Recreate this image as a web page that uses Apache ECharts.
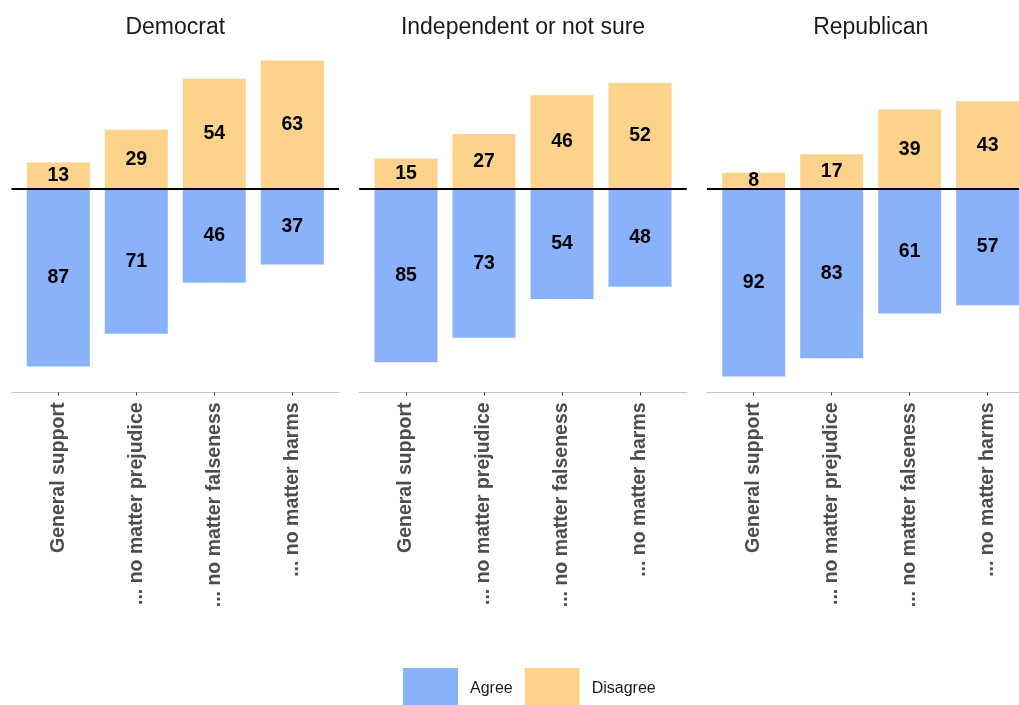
<!DOCTYPE html>
<html>
<head>
<meta charset="utf-8">
<script src="https://cdn.jsdelivr.net/npm/echarts@6/dist/echarts.min.js"></script>
<style>
  html, body { margin: 0; padding: 0; background: #ffffff; }
  #chart { width: 1019px; height: 705px; }
</style>
</head>
<body>
<div id="chart"></div>
<script>
// Survey statements (x axis) and respondent groups (panels)
const categories = ['General support', '... no matter prejudice', '... no matter falseness', '... no matter harms'];
const parties = ['Democrat', 'Independent or not sure', 'Republican'];

// Percent agreeing / disagreeing, per group
const agreeDemocrat = [87, 71, 46, 37];
const disagreeDemocrat = [13, 29, 54, 63];
const agreeIndependent = [85, 73, 54, 48];
const disagreeIndependent = [15, 27, 46, 52];
const agreeRepublican = [92, 83, 61, 57];
const disagreeRepublican = [8, 17, 39, 43];

const agreeByParty = [agreeDemocrat, agreeIndependent, agreeRepublican];
const disagreeByParty = [disagreeDemocrat, disagreeIndependent, disagreeRepublican];

const AGREE_COLOR = '#8AB2FA';
const DISAGREE_COLOR = '#FDD28A';
const FONT = 'Liberation Sans, Arial, sans-serif';

// Panel geometry: each panel spans 4.2 category units (0.6 padding on both sides)
const CANVAS_W = 1019;
const panelLeft = 11.5, panelStep = 347.7, unit = 78;
const panelTop = 44.7, panelHeight = 347.7;
const xMin = 0.4, xMaxFull = 4.6;

const chart = echarts.init(document.getElementById('chart'), null, { renderer: 'canvas' });

const grids = [], xAxes = [], yAxes = [], series = [], titleTexts = [];

parties.forEach((party, i) => {
  const left = panelLeft + i * panelStep;
  const fullWidth = (xMaxFull - xMin) * unit;
  // the last panel runs off the right edge of the canvas
  const width = Math.min(fullWidth, CANVAS_W - left);
  const xMax = xMin + width / unit;

  grids.push({ left: left, top: panelTop, width: width, height: panelHeight, containLabel: false });
  titleTexts.push({
    type: 'text',
    x: left + fullWidth / 2,
    y: 16,
    style: {
      text: party,
      textAlign: 'center',
      textVerticalAlign: 'top',
      font: 'normal 23px ' + FONT,
      fill: '#1a1a1a'
    }
  });
  xAxes.push({
    gridIndex: i,
    type: 'value',
    min: xMin,
    max: xMax,
    splitLine: { show: false },
    axisLine: { show: true, onZero: false, lineStyle: { color: '#c4c4c4', width: 1 } },
    axisTick: { show: true, customValues: [1, 2, 3, 4], length: 3, lineStyle: { color: '#333333', width: 1 } },
    axisLabel: {
      show: true,
      customValues: [1, 2, 3, 4],
      rotate: 90,
      margin: 10,
      formatter: v => categories[Math.round(v) - 1],
      fontFamily: FONT,
      fontSize: 19.5,
      fontWeight: 'bold',
      color: '#4d4d4d'
    }
  });
  yAxes.push({
    gridIndex: i,
    type: 'value',
    min: -99.75,
    max: 70.75,
    show: false,
    splitLine: { show: false }
  });

  const valueLabel = {
    show: true,
    position: 'inside',
    formatter: p => Math.abs(p.value[1]),
    fontFamily: FONT,
    fontSize: 19.5,
    fontWeight: 'bold',
    color: '#000000'
  };

  series.push({
    name: 'Agree',
    type: 'bar',
    xAxisIndex: i,
    yAxisIndex: i,
    stack: 'panel' + i,
    barWidth: 63,
    itemStyle: { color: AGREE_COLOR },
    label: valueLabel,
    data: agreeByParty[i].map((v, k) => [k + 1, -v])
  });
  series.push({
    name: 'Disagree',
    type: 'bar',
    xAxisIndex: i,
    yAxisIndex: i,
    stack: 'panel' + i,
    barWidth: 63,
    itemStyle: { color: DISAGREE_COLOR },
    label: valueLabel,
    data: disagreeByParty[i].map((v, k) => [k + 1, v]),
    markLine: {
      silent: true,
      symbol: 'none',
      label: { show: false },
      lineStyle: { color: '#000000', width: 2, type: 'solid' },
      data: [{ yAxis: 0 }]
    }
  });
});

chart.setOption({
  animation: false,
  backgroundColor: '#ffffff',
  graphic: titleTexts,
  grid: grids,
  xAxis: xAxes,
  yAxis: yAxes,
  legend: {
    data: ['Agree', 'Disagree'],
    left: 398,
    top: 663,
    itemWidth: 55,
    itemHeight: 42,
    itemGap: 12,
    icon: 'rect',
    selectedMode: false,
    textStyle: { fontFamily: FONT, fontSize: 16, color: '#1a1a1a', padding: [0, 0, 0, 7] }
  },
  series: series
});
</script>
</body>
</html>
